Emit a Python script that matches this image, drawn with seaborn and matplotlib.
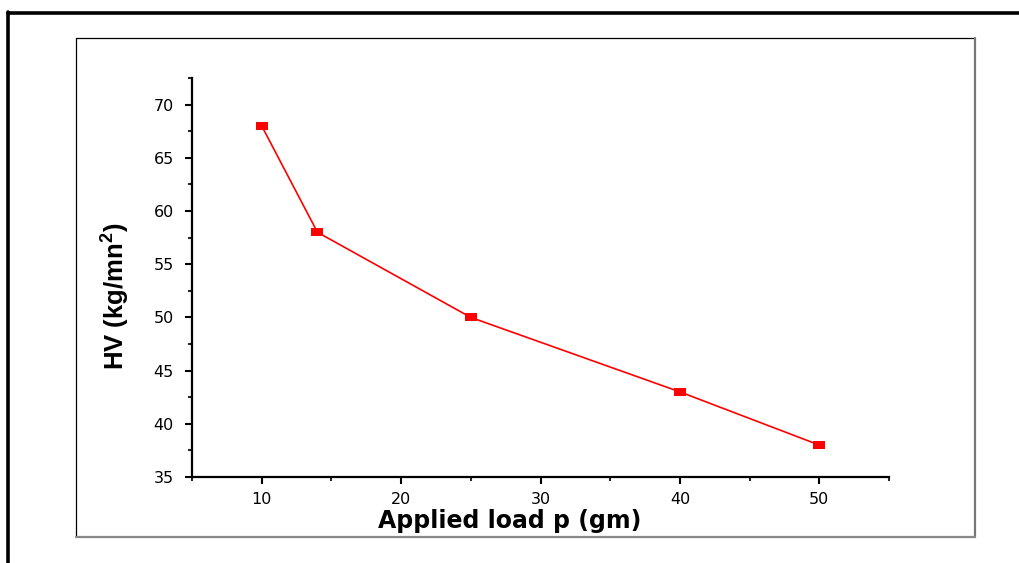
import matplotlib
matplotlib.use("Agg")
import matplotlib.pyplot as plt
import seaborn as sns
import pandas as pd
from matplotlib.lines import Line2D
from matplotlib.ticker import MultipleLocator

load = [10, 14, 25, 40, 50]
hv = [68, 58, 50, 43, 38]
x_ticks = [10, 20, 30, 40, 50]
y_ticks = [35, 40, 45, 50, 55, 60, 65, 70]

sns.set_theme(style="ticks")
plt.rcParams['font.family'] = ['DejaVu Sans']
plt.rcParams['mathtext.fontset'] = 'custom'
plt.rcParams['mathtext.bf'] = 'Liberation Sans:bold'
plt.rcParams['mathtext.rm'] = 'Liberation Sans:bold'
plt.rcParams['text.color'] = 'black'
plt.rcParams['axes.labelcolor'] = 'black'

df = pd.DataFrame({"load": load, "hv": hv})

fig = plt.figure(figsize=(10.19, 5.63), dpi=100)
ax = fig.add_axes([192/1019, 1-477/563, (889-192)/1019, (477-78)/563])

rect_marker = [(-1.5, -1), (1.5, -1), (1.5, 1), (-1.5, 1), (-1.5, -1)]
sns.lineplot(data=df, x="load", y="hv", ax=ax, color="#ff0000", linewidth=1.2,
             marker=rect_marker, markersize=9, markeredgewidth=0,
             markerfacecolor="#ff0000")

ax.set_xlim(5, 55)
ax.set_ylim(35, 72.5)
ax.set_xticks(x_ticks)
ax.set_yticks(y_ticks)
ax.xaxis.set_minor_locator(MultipleLocator(5))
ax.yaxis.set_minor_locator(MultipleLocator(2.5))
ax.tick_params(axis='both', which='major', length=5, width=1.5, labelsize=11.5,
               colors='black', pad=6)
ax.tick_params(axis='y', which='major', pad=8)
ax.tick_params(axis='both', which='minor', length=3, width=1.5)
for s in ['top', 'right']:
    ax.spines[s].set_visible(False)
for s in ['left', 'bottom']:
    ax.spines[s].set_linewidth(1.6)
    ax.spines[s].set_color('black')

ax.set_xlabel("Applied load p (gm)", fontsize=17, fontweight='bold',
              color='black', family='DejaVu Sans')
ax.xaxis.set_label_coords((510 - 192) / (889 - 192), -(521 - 477) / (477 - 78))
ax.xaxis.label.set_verticalalignment('center')
ax.set_ylabel(r"HV (kg/mn$\mathbf{^{2}}$)", fontsize=18.5, fontweight='bold',
              family='Liberation Sans', color='black')
ax.yaxis.set_label_coords(-(192 - 116) / (889 - 192), (477 - 296) / (477 - 78))
ax.yaxis.label.set_verticalalignment('center')

# inner frame
fig.add_artist(Line2D([76/1019, 975/1019], [1-38/563, 1-38/563], color='black', lw=0.9, transform=fig.transFigure))
fig.add_artist(Line2D([76/1019, 76/1019], [1-38/563, 1-537/563], color='black', lw=0.9, transform=fig.transFigure))
fig.add_artist(Line2D([975/1019, 975/1019], [1-38/563, 1-537/563], color='#777777', lw=1.6, transform=fig.transFigure))
fig.add_artist(Line2D([76/1019, 975/1019], [1-537/563, 1-537/563], color='#888888', lw=1.6, transform=fig.transFigure))
# outer border
fig.add_artist(Line2D([7.5/1019, 1.0], [1-12.5/563, 1-12.5/563], color='black', lw=2.6, transform=fig.transFigure))
fig.add_artist(Line2D([7.5/1019, 7.5/1019], [1-11.5/563, 0], color='black', lw=2.6, transform=fig.transFigure))

fig.savefig("out.png", dpi=100)
